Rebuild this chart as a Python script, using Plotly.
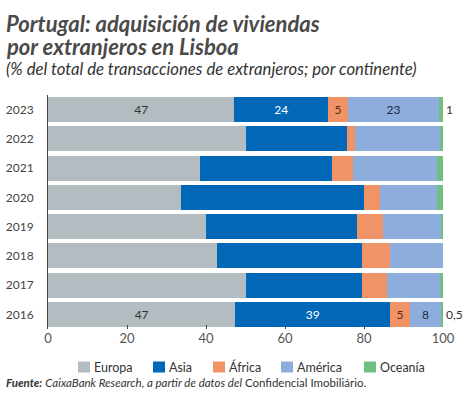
import plotly.graph_objects as go

years = ["2016", "2017", "2018", "2019", "2020", "2021", "2022", "2023"]
europa = [47.4, 50.0, 42.7, 40.0, 33.6, 38.5, 50.0, 47.2]
asia = [39.2, 29.4, 36.7, 38.2, 46.4, 33.5, 25.7, 23.7]
africa = [5.0, 6.3, 7.1, 6.6, 4.0, 5.2, 1.9, 5.0]
america = [7.9, 13.5, 13.5, 14.9, 14.5, 21.4, 21.6, 23.1]
oceania = [0.5, 0.8, 0.3, 0.3, 1.5, 1.4, 0.8, 1.0]

lab_europa = ["47", "", "", "", "", "", "", "47"]
lab_asia = ["39", "", "", "", "", "", "", "24"]
lab_africa = ["5", "", "", "", "", "", "", "5"]
lab_america = ["8", "", "", "", "", "", "", "23"]
lab_oceania = ["0,5", "", "", "", "", "", "", "1"]

names = ["Europa", "Asia", "África", "América", "Oceanía"]
colors = ["#B2BCC1", "#0068B7", "#F09468", "#8DAEDC", "#6EBF80"]
text_colors = ["#333333", "#FFFFFF", "#5A2A14", "#1F2A44", "#333333"]

FONT = "Lato"
fig = go.Figure()
series = [europa, asia, africa, america, oceania]
labels = [lab_europa, lab_asia, lab_africa, lab_america, lab_oceania]
for i, (vals, labs) in enumerate(zip(series, labels)):
    fig.add_trace(go.Bar(
        y=years, x=vals, name=names[i], orientation="h",
        marker=dict(color=colors[i], line=dict(width=0)),
        text=labs,
        textposition="outside" if i == 4 else "inside",
        insidetextanchor="middle",
        textfont=dict(family=FONT, size=12, color=text_colors[i]),
        cliponaxis=False,
        hoverinfo="skip",
        showlegend=False,
    ))

W, HT = 474, 403
L, R, T, B = 48, 31, 95, 74
H = HT - T - B

def py(px):
    return (HT - B - px) / H

def px_x(px):
    return (px - L) / (W - L - R)

fig.update_layout(
    width=W, height=HT,
    margin=dict(l=L, r=R, t=T, b=B, autoexpand=False),
    barmode="stack", bargap=0.14,
    plot_bgcolor="white", paper_bgcolor="white",
    font=dict(family=FONT, color="#444444", size=13),
    xaxis=dict(range=[0, 100], tickvals=[0, 20, 40, 60, 80, 100],
               ticks="inside", ticklen=4, tickcolor="#444444",
               showgrid=False, zeroline=False, showline=False,
               automargin=False,
               tickfont=dict(family=FONT, size=13, color="#555555")),
    yaxis=dict(showgrid=False, zeroline=False, showline=True,
               linecolor="#444444", linewidth=1, ticks="",
               automargin=False, ticklabelstandoff=11,
               tickfont=dict(family=FONT, size=12, color="#444444")),
    showlegend=False,
)

# legend (drawn with shapes + text)
leg_sq_x = [78, 153, 213, 281, 364]
for name, col, sx in zip(names, colors, leg_sq_x):
    fig.add_shape(type="rect", xref="paper", yref="paper",
                  x0=px_x(sx), x1=px_x(sx + 12), y0=py(372.5), y1=py(361.5),
                  fillcolor=col, line=dict(width=0))
    fig.add_annotation(xref="paper", yref="paper", x=px_x(sx + 14), y=py(367),
                       xanchor="left", yanchor="middle", text=name, showarrow=False,
                       font=dict(family=FONT, size=12.5, color="#333333"))

fig.add_annotation(
    xref="paper", yref="paper", x=px_x(4), y=py(23), xanchor="left", yanchor="middle",
    text="<b><i>Portugal: adquisición de viviendas</i></b>",
    showarrow=False, align="left",
    font=dict(family=FONT, size=22, color="#4A4A4A"),
)
fig.add_annotation(
    xref="paper", yref="paper", x=px_x(4), y=py(46), xanchor="left", yanchor="middle",
    text="<b><i>por extranjeros en Lisboa</i></b>",
    showarrow=False, align="left",
    font=dict(family=FONT, size=22, color="#4A4A4A"),
)
fig.add_annotation(
    xref="paper", yref="paper", x=px_x(4), y=py(69), xanchor="left", yanchor="middle",
    text="<i>(% del total de transacciones de extranjeros; por continente)</i>",
    showarrow=False, align="left",
    font=dict(family=FONT, size=16.7, color="#333333"),
)
fig.add_annotation(
    xref="paper", yref="paper", x=px_x(4), y=py(382), xanchor="left", yanchor="middle",
    text="<b><i>Fuente:</i></b> <i>CaixaBank Research, a partir de datos del</i> Confidencial Imobiliário.",
    showarrow=False, align="left",
    font=dict(family=FONT, size=11.5, color="#333333"),
)

fig.write_html("out.html", config={"displayModeBar": False},
               post_script="document.body.style.margin='0';document.body.style.overflow='hidden';")
